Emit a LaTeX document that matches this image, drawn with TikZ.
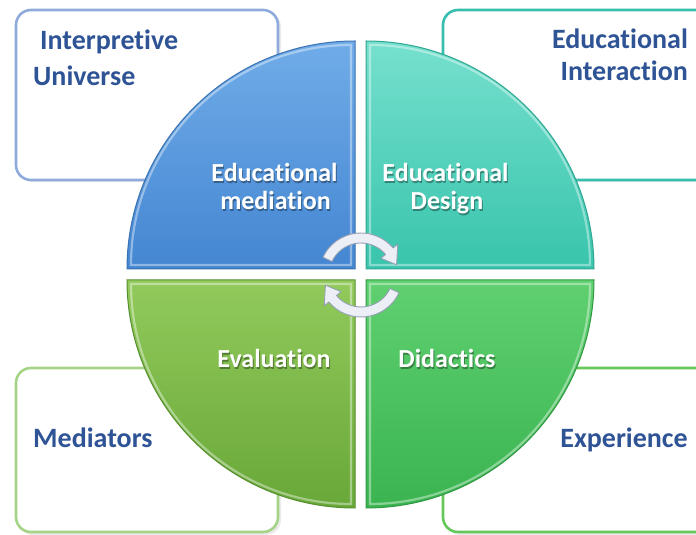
\documentclass[tikz,border=0pt]{standalone}
\usepackage{fontspec}
\setmainfont[Ligatures={NoCommon,NoContextual}]{Carlito}
\definecolor{txtblue}{RGB}{47,84,150}
\definecolor{bxTL}{RGB}{143,170,220}
\definecolor{bxTR}{RGB}{55,190,175}
\definecolor{bxBL}{RGB}{165,212,135}
\definecolor{bxBR}{RGB}{100,200,90}
\definecolor{qTLa}{RGB}{112,172,232}
\definecolor{qTLb}{RGB}{68,134,210}
\definecolor{qTRa}{RGB}{118,224,206}
\definecolor{qTRb}{RGB}{56,196,172}
\definecolor{qBLa}{RGB}{146,202,92}
\definecolor{qBLb}{RGB}{104,168,56}
\definecolor{qBRa}{RGB}{96,208,112}
\definecolor{qBRb}{RGB}{58,180,80}
\definecolor{arrfill}{RGB}{236,240,246}
\definecolor{arredge}{RGB}{150,160,180}
\begin{document}
\begin{tikzpicture}[x=1pt,y=1pt,
  outbox/.style={line width=2.6pt, fill=white, rounded corners=15pt},
  boxshadow/.style={fill=black, opacity=0.08, rounded corners=15pt},
  outtext/.style={inner sep=0pt, text=txtblue, font=\fontsize{28}{30}\selectfont\bfseries},
  intext/.style={inner sep=0pt, text=white, anchor=base, font=\fontsize{26}{30}\selectfont\bfseries},
  inshadow/.style={inner sep=0pt, text=black, opacity=0.35, anchor=base, font=\fontsize{26}{30}\selectfont\bfseries},
  quadrant/.style={line width=1pt},
  rim/.style={line width=2.2pt, white, opacity=0.4},
  cyclearrow/.style={fill=arrfill, draw=arredge, line width=0.9pt, line join=round}]
\useasboundingbox (0,0) rectangle (696,535);
\clip (0,0) rectangle (696,535);
\fill[white] (0,0) rectangle (696,535);

% outer boxes
\fill[boxshadow] (18,353) rectangle (281,523);
\draw[outbox, draw=bxTL] (16,355) rectangle (278,525);
\fill[boxshadow] (445,353) rectangle (722,523);
\draw[outbox, draw=bxTR] (443,355) rectangle (720,525);
\fill[boxshadow] (18,0) rectangle (281,165);
\draw[outbox, draw=bxBL] (16,3) rectangle (278,167);
\fill[boxshadow] (445,0) rectangle (722,165);
\draw[outbox, draw=bxBR] (443,3) rectangle (720,167);

% outer texts
\node[outtext, anchor=base west] (interp) at (40,485) {Interpretive};
\node[outtext, anchor=base west] (univ) at (33,449) {Universe};
\node[outtext, anchor=base east] (eduint) at (688,486) {Educational};
\node[outtext, anchor=base east] (inter) at (688,454) {Interaction};
\node[outtext, anchor=base west] (medi) at (33,87) {Mediators};
\node[outtext, anchor=base east] (expe) at (688,87) {Experience};

% quadrants
\shade[top color=qTLa, bottom color=qTLb] (355,266) -- ++(-228,0) arc[start angle=180,end angle=90,radius=228] -- cycle;
\draw[quadrant, draw=qTLb!85!black] (355,266) -- ++(-228,0) arc[start angle=180,end angle=90,radius=228] -- cycle;
\draw[rim] (351,270) -- ++(-220,0) arc[start angle=180,end angle=90,radius=220] -- cycle;

\shade[top color=qTRa, bottom color=qTRb] (366,266) -- ++(0,228) arc[start angle=90,end angle=0,radius=228] -- cycle;
\draw[quadrant, draw=qTRb!85!black] (366,266) -- ++(0,228) arc[start angle=90,end angle=0,radius=228] -- cycle;
\draw[rim] (370,270) -- ++(0,220) arc[start angle=90,end angle=0,radius=220] -- cycle;

\shade[top color=qBLa, bottom color=qBLb] (355,255) -- ++(0,-228) arc[start angle=270,end angle=180,radius=228] -- cycle;
\draw[quadrant, draw=qBLb!85!black] (355,255) -- ++(0,-228) arc[start angle=270,end angle=180,radius=228] -- cycle;
\draw[rim] (351,251) -- ++(0,-220) arc[start angle=270,end angle=180,radius=220] -- cycle;

\shade[top color=qBRa, bottom color=qBRb] (366,255) -- ++(228,0) arc[start angle=0,end angle=-90,radius=228] -- cycle;
\draw[quadrant, draw=qBRb!85!black] (366,255) -- ++(228,0) arc[start angle=0,end angle=-90,radius=228] -- cycle;
\draw[rim] (370,251) -- ++(220,0) arc[start angle=0,end angle=-90,radius=220] -- cycle;

% inner texts (shadow + text)
\node[inshadow] at (275.5,351.5) {Educational};
\node[intext] (edumed) at (274.5,353) {Educational};
\node[inshadow] at (276.5,323.5) {mediation};
\node[intext] (med) at (275.5,325) {mediation};
\node[inshadow] at (446.5,351.5) {Educational};
\node[intext] (edudes) at (445.5,353) {Educational};
\node[inshadow] at (448,323.5) {Design};
\node[intext] (des) at (447,325) {Design};
\node[inshadow] at (275,165.5) {Evaluation};
\node[intext] (eval) at (274,167) {Evaluation};
\node[inshadow] at (448,165.5) {Didactics};
\node[intext] (dida) at (447,167) {Didactics};

% cycle arrows
\begin{scope}[shift={(361,260)}]
\coordinate (cyc) at (0,0);
\path[cyclearrow] (155:42) arc[start angle=155,end angle=40,radius=42]
  -- (40:48) -- (16:37) -- (40:26) -- (40:32)
  arc[start angle=40,end angle=155,radius=32] -- cycle;
\path[cyclearrow] (-25:42) arc[start angle=-25,end angle=-140,radius=42]
  -- (-140:48) -- (-164:37) -- (-140:26) -- (-140:32)
  arc[start angle=-140,end angle=-25,radius=32] -- cycle;
\end{scope}
\end{tikzpicture}
\end{document}
